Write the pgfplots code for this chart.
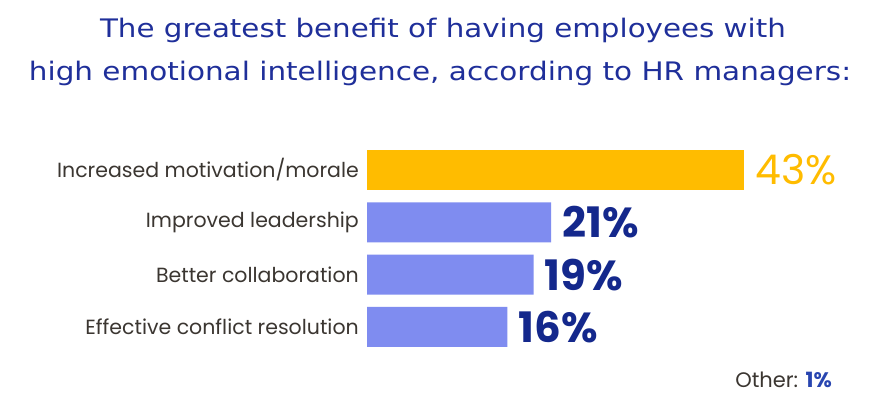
\documentclass[border=0pt]{standalone}
\usepackage{pgfplots}
\pgfplotsset{compat=1.18}
\usepackage{fontspec}
\setmainfont{Poppins}
\newfontfamily\titlefont{DejaVu Sans}
\newfontfamily\labfont{Poppins}
\definecolor{titleblue}{RGB}{31,47,154}
\definecolor{barorange}{RGB}{255,188,0}
\definecolor{barblue}{RGB}{127,140,240}
\definecolor{navy}{RGB}{20,40,140}
\definecolor{labgray}{RGB}{59,54,49}
\definecolor{otherblue}{RGB}{40,69,176}
\begin{document}
\begin{tikzpicture}
\path[fill=white, use as bounding box] (0,0) rectangle (883pt,414pt);
\node[anchor=base, text=titleblue, font=\titlefont\fontsize{25.5}{30}\selectfont, inner sep=0pt] at (443pt,376pt) {\scalebox{1.15}[1]{The greatest benefit of having employees with}};
\node[anchor=base, text=titleblue, font=\titlefont\fontsize{25.5}{30}\selectfont, inner sep=0pt] at (440pt,333pt) {\scalebox{1.155}[1]{high emotional intelligence, according to HR managers:}};
\begin{axis}[
  at={(367pt,60.95pt)}, anchor=south west,
  scale only axis, width=438.5pt, height=209.2pt,
  xbar, bar width=40pt, bar shift=0pt,
  xmin=0, xmax=50, ymin=-0.5, ymax=3.5, y dir=reverse,
  enlargelimits=false, clip=false,
  axis x line=none, axis y line=left,
  y axis line style={draw=none},
  ytick={0,1,2,3},
  yticklabels={Increased motivation/morale, Improved leadership, Better collaboration, Effective conflict resolution},
  major tick length=0pt,
  yticklabel style={font=\labfont\fontsize{20.5}{24}\selectfont, text=labgray, inner sep=0pt, xshift=-8pt, anchor=east},
  /pgf/number format/assume math mode=true,
  nodes near coords={\pgfmathprintnumber{\pgfplotspointmeta}\%},
  nodes near coords style={anchor=west, inner sep=0pt, xshift=11pt},
]
\addplot[fill=barorange, draw=none, every node near coord/.append style={text=barorange, font=\fontsize{41}{44}\selectfont}] coordinates {(43,0)};
\addplot[fill=barblue, draw=none, every node near coord/.append style={text=navy, font=\bfseries\fontsize{42}{46}\selectfont}] coordinates {(21,1) (19,2) (16,3)};
\end{axis}
\node[anchor=base east, inner sep=0pt, font=\labfont\fontsize{21}{24}\selectfont] at (832pt,26pt) {\textcolor{labgray}{Other:} \textcolor{otherblue}{\bfseries 1\%}};
\end{tikzpicture}
\end{document}
